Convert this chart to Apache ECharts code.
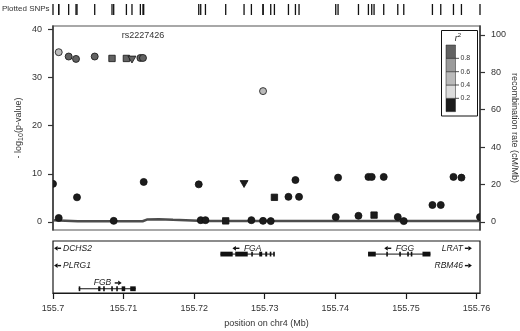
<!DOCTYPE html>
<html><head><meta charset="utf-8">
<script src="https://cdn.jsdelivr.net/npm/echarts@6/dist/echarts.min.js"></script>
<style>html,body{margin:0;padding:0;background:#fff}#c{width:520px;height:331px}</style>
</head><body><div id="c"></div>
<script>
const xMin = 155.7, xMax = 155.7605;
const xTicks = [155.7, 155.71, 155.72, 155.73, 155.74, 155.75, 155.76];
const pTicks = [0, 10, 20, 30, 40];
const recombTicks = [0, 20, 40, 60, 80, 100];

const snpPos = [155.70000,155.70081,155.70081,155.70222,155.70326,155.70340,155.70591,155.70836,155.70860,155.71040,
  155.71119,155.71238,155.71275,155.71285,155.72065,155.72093,155.72160,155.72447,155.72707,155.72811,
  155.72976,155.72976,155.73085,155.73137,155.73336,155.73435,155.73486,155.74006,155.74039,155.74328,
  155.74469,155.74516,155.74549,155.74686,155.74885,155.74970,155.75376,155.75494,155.75674,155.75787,155.76050];
const snpLogP = [7.9,35.3,0.8,34.4,33.9,5.1,34.4,34.0,0.2,34.0,
  33.8,34.1,34.1,8.3,7.8,0.35,0.35,0.2,7.9,0.35,
  27.2,0.2,0.15,5.1,5.2,8.7,5.2,1.0,9.2,1.25,
  9.35,9.35,1.4,9.35,1.0,0.15,3.5,3.5,9.35,9.2,1.0];
const snpR2 = [0.1,0.5,0.1,0.9,0.9,0.1,0.9,0.9,0.1,0.9,
  0.9,0.9,0.9,0.1,0.1,0.1,0.1,0.1,0.1,0.1,
  0.5,0.1,0.1,0.1,0.1,0.1,0.1,0.1,0.1,0.1,
  0.1,0.1,0.1,0.1,0.1,0.1,0.1,0.1,0.1,0.1,0.1];
const snpShape = ['c','c','c','c','c','c','c','s','c','s',
  't','c','c','c','c','c','c','s','t','c',
  'c','c','c','s','c','c','c','c','c','c',
  'c','c','s','c','c','c','c','c','c','c','c'];
const leadName = 'rs2227426';
const leadPos = 155.71275;
const leadLabelY = 38.8;

const recombPos = [155.7000,155.7035,155.7127,155.7133,155.7150,155.7170,155.7215,155.7300,155.7400,155.7500,155.7605];
const recombRate = [0.9,0.3,0.3,1.2,1.4,1.1,0.5,0.5,0.4,0.4,0.5];

const geneName = ['FGB','FGA','FGG'];
const geneStart = [155.70364,155.72372,155.74464];
const geneEnd = [155.71172,155.73137,155.75348];
const geneStrand = ['+','-','-'];
const geneRow = [2,0,0];
const geneExons = [
  [[155.70364,155.70385],[155.70640,155.70672],[155.70711,155.70733],[155.70825,155.70846],[155.70896,155.70917],[155.70973,155.71023],[155.71094,155.71172]],
  [[155.72372,155.72546],[155.72582,155.72759],[155.72809,155.72830],[155.72922,155.72964],[155.73007,155.73035],[155.73071,155.73085],[155.73120,155.73137]],
  [[155.74464,155.74573],[155.74722,155.74743],[155.74906,155.74927],[155.75019,155.75040],[155.75069,155.75090],[155.75235,155.75348]]
];
const offName = ['DCHS2','PLRG1','LRAT','RBM46'];
const offTip = [155.70015,155.70015,155.75935,155.75935];
const offSide = ['left','left','right','right'];
const offRow = [0,1,0,1];

const r2Breaks = [0,0.2,0.4,0.6,0.8,1];
const r2Colors = ['#1c1c1c','#dcdcdc','#bababa','#9a9a9a','#626262'];
const r2Labels = ['0.2','0.4','0.6','0.8'];

const FONT = "'Liberation Sans', Arial, sans-serif";
function r2Color(v){ for(let k=0;k<5;k++){ if(v<r2Breaks[k+1]) return r2Colors[k]; } return r2Colors[4]; }

const order = snpPos.map((_,i)=>i).sort((a,b)=>snpR2[a]-snpR2[b]);
const snpData = order.map(i=>[snpPos[i], snpLogP[i], i]);

function arrow(x, y, dir){
  const L = 7, hl = 3.5, hh = 2.4;
  const tip = x + dir*L;
  return [
    {type:'line', shape:{x1:x, y1:y, x2:tip - dir*hl, y2:y}, style:{stroke:'#111', lineWidth:1.4}},
    {type:'polygon', shape:{points:[[tip,y],[tip-dir*hl,y-hh],[tip-dir*hl,y+hh]]}, style:{fill:'#111'}}
  ];
}

const legendChildren = [];
legendChildren.push({type:'rect', shape:{x:441.5,y:30.5,width:36,height:85.5}, style:{fill:'#fff', stroke:'#111', lineWidth:1}});
legendChildren.push({type:'text', style:{x:458, y:38, text:'r{s|2}', font:'italic 9px '+FONT, fill:'#222', align:'center', verticalAlign:'middle', rich:{s:{fontSize:6, padding:[0,0,5,0]}}}});
const bh = 13.33;
for(let k=0;k<5;k++){
  const y = 45 + (4-k)*bh;
  legendChildren.push({type:'rect', shape:{x:446,y:y,width:9.5,height:bh}, style:{fill:r2Colors[k], stroke:'#222', lineWidth:0.5}});
}
for(let k=1;k<5;k++){
  const y = 45 + (5-k)*bh;
  legendChildren.push({type:'line', shape:{x1:455.5,y1:y,x2:459,y2:y}, style:{stroke:'#222', lineWidth:0.8}});
  legendChildren.push({type:'text', style:{x:460.5, y:y, text:r2Labels[k-1], font:'7px '+FONT, fill:'#333', verticalAlign:'middle'}});
}

const chart = echarts.init(document.getElementById('c'), null, {renderer:'canvas'});
chart.setOption({
  animation:false,
  textStyle:{fontFamily:FONT},
  grid:[
    {left:53, top:26, width:427, height:204, show:true, borderColor:'#8c8c8c', borderWidth:1.5, backgroundColor:'transparent', outerBoundsMode:'none', containLabel:false},
    {left:53, top:241, width:427, height:52, show:true, borderColor:'#1a1a1a', borderWidth:1.2, outerBoundsMode:'none', containLabel:false},
    {left:53, top:4, width:427, height:11, show:false, outerBoundsMode:'none', containLabel:false}
  ],
  xAxis:[
    {gridIndex:0, type:'value', min:xMin, max:xMax, show:false},
    {gridIndex:1, type:'value', min:xMin, max:xMax, position:'bottom',
      axisLine:{show:true, onZero:false, lineStyle:{color:'#1a1a1a', width:1.2}},
      axisTick:{show:true, length:6, customValues:xTicks, lineStyle:{color:'#1a1a1a', width:1.2}},
      axisLabel:{customValues:xTicks, fontSize:9, color:'#333', margin:11, formatter:v=>String(+v.toFixed(3))},
      splitLine:{show:false}, nameMoveOverlap:false,
      name:'position on chr4 (Mb)', nameLocation:'middle', nameGap:26, nameTextStyle:{fontSize:9, color:'#333'}},
    {gridIndex:2, type:'value', min:xMin, max:xMax, show:false}
  ],
  yAxis:[
    {gridIndex:0, type:'value', min:-1.7, max:40.75, position:'left',
      axisLine:{show:true, onZero:false, lineStyle:{color:'#333', width:1.5}},
      axisTick:{show:true, length:5, customValues:pTicks, lineStyle:{color:'#333', width:1.2}},
      axisLabel:{customValues:pTicks, fontSize:9, color:'#333', margin:11},
      splitLine:{show:false}, nameMoveOverlap:false,
      name:'- log{s|10}(p-value)', nameLocation:'middle', nameRotate:90, nameGap:28,
      nameTextStyle:{fontSize:9, color:'#333', rich:{s:{fontSize:7, padding:[5,0,0,0]}}}},
    {gridIndex:0, type:'value', min:-4.37, max:104.8, position:'right',
      axisLine:{show:true, onZero:false, lineStyle:{color:'#333', width:1.5}},
      axisTick:{show:true, length:5, customValues:recombTicks, lineStyle:{color:'#333', width:1.2}},
      axisLabel:{customValues:recombTicks, fontSize:9, color:'#333', margin:11},
      splitLine:{show:false}, nameMoveOverlap:false,
      name:'recombination rate (cM/Mb)', nameLocation:'middle', nameRotate:-90, nameGap:30,
      nameTextStyle:{fontSize:9, color:'#333'}},
    {gridIndex:1, type:'value', min:0, max:3, inverse:true, show:false},
    {gridIndex:2, type:'value', min:0, max:1, show:false}
  ],
  graphic:[
    {type:'text', left:2, top:5, style:{text:'Plotted SNPs', font:'8px '+FONT, fill:'#333'}},
    {type:'group', children:legendChildren, z:100}
  ],
  series:[
    {type:'line', xAxisIndex:0, yAxisIndex:1, data:recombPos.map((x,i)=>[x,recombRate[i]]),
      showSymbol:false, symbol:'none', lineStyle:{color:'#4d4d4d', width:2.5}, z:1, clip:true},
    {type:'custom', xAxisIndex:0, yAxisIndex:0, data:snpData, clip:true, z:3,
      encode:{x:0, y:1},
      renderItem:function(params, api){
        const i = api.value(2);
        const p = api.coord([api.value(0), api.value(1)]);
        const fill = r2Color(snpR2[i]);
        const style = {fill:fill, stroke:'#111', lineWidth:0.8};
        const sh = snpShape[i];
        if(sh==='s') return {type:'rect', shape:{x:p[0]-3.2,y:p[1]-3.2,width:6.4,height:6.4}, style:style};
        if(sh==='t') return {type:'polygon', shape:{points:[[p[0]-4,p[1]-3.3],[p[0]+4,p[1]-3.3],[p[0],p[1]+3.6]]}, style:style};
        return {type:'circle', shape:{cx:p[0], cy:p[1], r:3.5}, style:style};
      }},
    {type:'custom', xAxisIndex:0, yAxisIndex:0, data:[[leadPos, leadLabelY]], z:4, encode:{x:0,y:1},
      renderItem:function(params, api){
        const p = api.coord([api.value(0), api.value(1)]);
        return {type:'text', style:{x:p[0], y:p[1], text:leadName, font:'9px '+FONT, fill:'#333', align:'center', verticalAlign:'middle'}};
      }},
    {type:'custom', xAxisIndex:2, yAxisIndex:3, data:snpPos.map(x=>[x]), encode:{x:0},
      renderItem:function(params, api){
        const a = api.coord([api.value(0), 0]);
        const b = api.coord([api.value(0), 1]);
        return {type:'line', shape:{x1:a[0], y1:a[1], x2:b[0], y2:b[1]}, style:{stroke:'#111', lineWidth:1.3}};
      }},
    {type:'custom', xAxisIndex:1, yAxisIndex:2, data:geneName.map((n,i)=>[geneStart[i], geneEnd[i], i]), encode:{x:[0,1]},
      renderItem:function(params, api){
        const i = api.value(2);
        const row = geneRow[i];
        const s = api.coord([geneStart[i], row+0.755]);
        const e = api.coord([geneEnd[i], row+0.755]);
        const ly = api.coord([geneStart[i], row+0.42])[1];
        const cx = (s[0]+e[0])/2;
        const children = [{type:'line', shape:{x1:s[0], y1:s[1], x2:e[0], y2:e[1]}, style:{stroke:'#111', lineWidth:1}}];
        geneExons[i].forEach(ex=>{
          const a = api.coord([ex[0], row+0.755]);
          const b = api.coord([ex[1], row+0.755]);
          children.push({type:'rect', shape:{x:a[0], y:a[1]-2.4, width:Math.max(b[0]-a[0],1.6), height:4.8}, style:{fill:'#111'}});
        });
        if(geneStrand[i]==='-'){
          children.push({type:'text', style:{x:cx-3.5, y:ly, text:geneName[i], font:'italic 8.5px '+FONT, fill:'#222', align:'left', verticalAlign:'middle'}});
          children.push(...arrow(cx-8, ly, -1));
        } else {
          children.push({type:'text', style:{x:cx+4, y:ly, text:geneName[i], font:'italic 8.5px '+FONT, fill:'#222', align:'right', verticalAlign:'middle'}});
          children.push(...arrow(cx+7.5, ly, 1));
        }
        return {type:'group', children:children};
      }},
    {type:'custom', xAxisIndex:1, yAxisIndex:2, data:offName.map((n,i)=>[offTip[i], i]), encode:{x:0},
      renderItem:function(params, api){
        const i = api.value(1);
        const p = api.coord([offTip[i], offRow[i]+0.42]);
        const children = [];
        if(offSide[i]==='left'){
          children.push(...arrow(p[0]+7, p[1], -1));
          children.push({type:'text', style:{x:p[0]+9, y:p[1], text:offName[i], font:'italic 8.5px '+FONT, fill:'#222', align:'left', verticalAlign:'middle'}});
        } else {
          children.push(...arrow(p[0]-7, p[1], 1));
          children.push({type:'text', style:{x:p[0]-9, y:p[1], text:offName[i], font:'italic 8.5px '+FONT, fill:'#222', align:'right', verticalAlign:'middle'}});
        }
        return {type:'group', children:children};
      }}
  ]
});
</script></body></html>
